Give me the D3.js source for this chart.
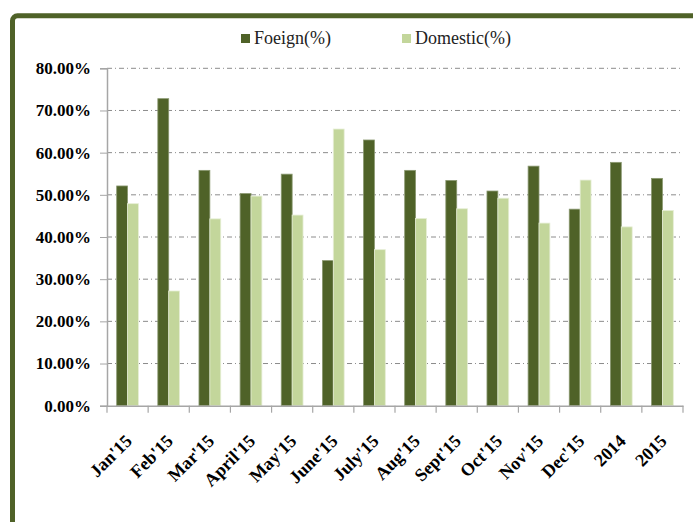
<!DOCTYPE html>
<html>
<head>
<meta charset="utf-8">
<script src="https://cdn.jsdelivr.net/npm/d3@7"></script>
<style>
  body { margin: 0; background: #fff; }
  svg { display: block; }
  text { font-family: "Liberation Serif", "Times New Roman", "DejaVu Serif", serif; }
</style>
</head>
<body>
<div id="chart"></div>
<script>
const categories = ["Jan'15", "Feb'15", "Mar'15", "April'15", "May'15", "June'15", "July'15",
                    "Aug'15", "Sept'15", "Oct'15", "Nov'15", "Dec'15", "2014", "2015"];
const foreign  = [52.1, 72.8, 55.8, 50.3, 54.9, 34.4, 63.0, 55.8, 53.4, 50.9, 56.8, 46.6, 57.7, 53.9];
const domestic = [47.9, 27.2, 44.3, 49.7, 45.2, 65.6, 37.0, 44.4, 46.7, 49.2, 43.3, 53.5, 42.4, 46.3];
const seriesNames = ["Foeign(%)", "Domestic(%)"];
const yTicks = [0, 10, 20, 30, 40, 50, 60, 70, 80];

const width = 693, height = 522;
const colors = ["#4F6228", "#C3D69B"];

const svg = d3.select("#chart").append("svg").attr("width", width).attr("height", height);

// outer frame
svg.append("rect")
    .attr("x", 12.5).attr("y", 15.8)
    .attr("width", 720).attr("height", 560)
    .attr("rx", 5)
    .attr("fill", "none")
    .attr("stroke", "#4F6228")
    .attr("stroke-width", 5);

const plotLeft = 107, plotRight = 683, plotTop = 68.3, plotBottom = 405.7;

const x0 = d3.scaleBand().domain(categories).range([plotLeft, plotRight]);
const x1 = d3.scaleBand().domain(seriesNames).range([0, x0.bandwidth()]).paddingOuter(0.89);
const y = d3.scaleLinear().domain([0, 80]).range([plotBottom, plotTop]);

// gridlines
svg.append("g").selectAll("line").data(yTicks.slice(1)).join("line")
    .attr("x1", plotLeft).attr("x2", plotRight)
    .attr("y1", d => y(d)).attr("y2", d => y(d))
    .attr("stroke", "#8c8c8c")
    .attr("stroke-dasharray", "5,3,1,3");

// bars
const data = categories.map((c, i) => ({ cat: c, vals: [foreign[i], domestic[i]] }));
const groups = svg.append("g").selectAll("g").data(data).join("g")
    .attr("transform", d => `translate(${x0(d.cat)},0)`);
groups.selectAll("rect").data(d => d.vals.map((v, j) => ({ key: seriesNames[j], v, j }))).join("rect")
    .attr("x", d => x1(d.key))
    .attr("width", x1.bandwidth())
    .attr("y", d => y(d.v))
    .attr("height", d => plotBottom - y(d.v))
    .attr("fill", d => colors[d.j])
    .attr("stroke", d => d.j === 0 ? "#8a9870" : "#e6eed6")
    .attr("stroke-width", 0.8);

// y axis
const yAxis = svg.append("g")
    .attr("transform", `translate(${plotLeft},0)`)
    .call(d3.axisLeft(y).tickValues(yTicks).tickSize(7).tickPadding(9)
        .tickFormat(d => d.toFixed(2) + "%"));
yAxis.attr("font-family", null);
yAxis.select(".domain").attr("stroke", "#a6a6a6").attr("stroke-width", 1.5);
yAxis.selectAll(".tick line").attr("stroke", "#a6a6a6");
yAxis.selectAll("text")
    .attr("font-weight", "bold")
    .attr("font-size", 17)
    .attr("fill", "#000");

// x axis
const xAxis = svg.append("g")
    .attr("transform", `translate(0,${plotBottom})`)
    .call(d3.axisBottom(x0).tickSize(0).tickFormat(""));
xAxis.select(".domain").attr("stroke", "#a6a6a6").attr("stroke-width", 1.5);
svg.append("g").selectAll("line").data(categories.concat(["end"])).join("line")
    .attr("x1", (d, i) => plotLeft + i * x0.step())
    .attr("x2", (d, i) => plotLeft + i * x0.step())
    .attr("y1", plotBottom).attr("y2", plotBottom + 7)
    .attr("stroke", "#a6a6a6").attr("stroke-width", 1.2);

svg.append("g").selectAll("text").data(categories).join("text")
    .attr("transform", d => `translate(${x0(d) + x0.bandwidth() / 2 + 1},${plotBottom + 32}) rotate(-45)`)
    .attr("text-anchor", "end")
    .attr("dy", "0.35em")
    .attr("font-weight", "bold")
    .attr("font-size", 18)
    .attr("fill", "#000")
    .text(d => d);

// legend
const legendX = [241, 402];
const legend = svg.append("g").selectAll("g").data(seriesNames).join("g")
    .attr("transform", (d, i) => `translate(${legendX[i]},34)`);
legend.append("rect").attr("width", 9).attr("height", 9).attr("fill", (d, i) => colors[i]);
legend.append("text")
    .attr("x", 13).attr("y", 10)
    .attr("font-size", 18)
    .attr("fill", "#222")
    .text(d => d);
</script>
</body>
</html>
